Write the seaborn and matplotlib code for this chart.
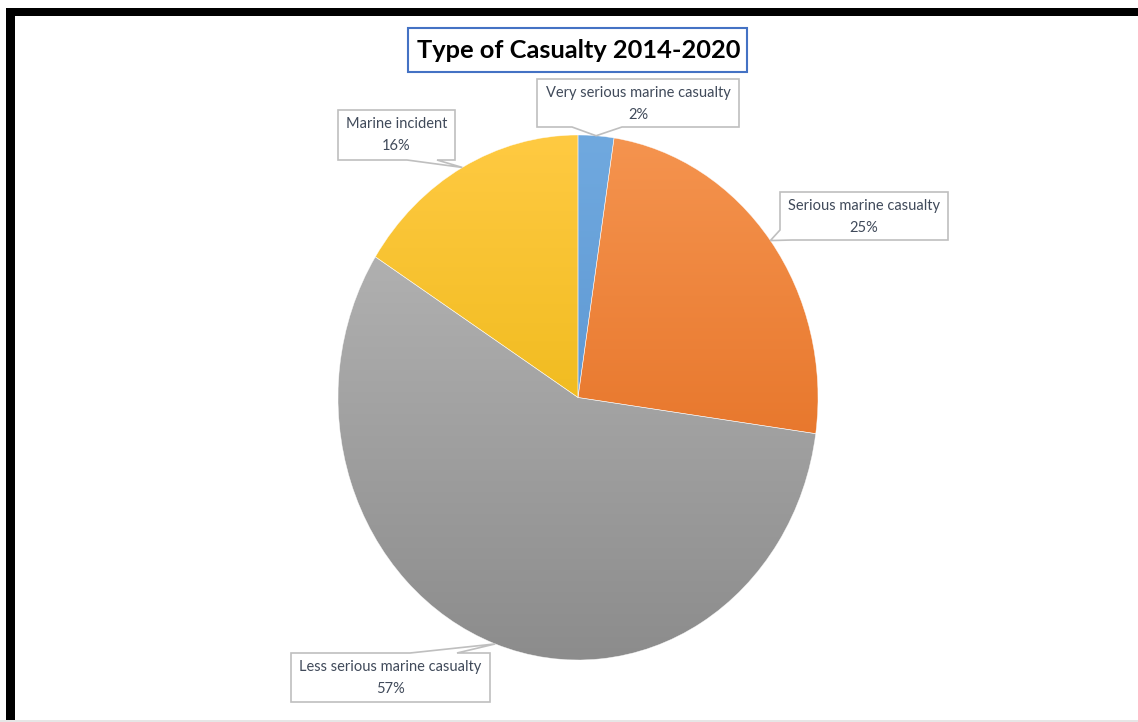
import numpy as np
import matplotlib
matplotlib.use("Agg")
import matplotlib.pyplot as plt
import seaborn as sns
from matplotlib.patches import Rectangle, Polygon
from matplotlib.colors import LinearSegmentedColormap

# ---- data ----
categories = ["Very serious marine casualty", "Serious marine casualty",
              "Less serious marine casualty", "Marine incident"]
shares = [2.4, 24.8, 56.8, 16.0]
pct_labels = ["2%", "25%", "57%", "16%"]
title = "Type of Casualty 2014-2020"

top_colors = ["#70A9DF", "#F5944F", "#BBBBBB", "#FFCA42"]
bottom_colors = ["#4F8AC9", "#DE6314", "#8C8C8C", "#E3AE00"]

sns.set_theme(style="white")
plt.rcParams['font.family'] = ['Lato', 'DejaVu Sans']

W, H = 1138, 722
fig = plt.figure(figsize=(W / 100, H / 100), dpi=100)
fig.patch.set_facecolor('white')

# ---- pie (elliptical, like the reference) ----
pl, pt, pr, pb = 338, 135, 818, 660
ax = fig.add_axes([pl / W, 1 - pb / H, (pr - pl) / W, (pb - pt) / H])
wedges, _ = ax.pie(shares, startangle=90, counterclock=False, radius=1,
                   colors=bottom_colors)
grad = np.linspace(0, 1, 256).reshape(-1, 1)
for w, c0, c1 in zip(wedges, top_colors, bottom_colors):
    cmap = LinearSegmentedColormap.from_list('g', [c0, c1])
    im = ax.imshow(grad, cmap=cmap, extent=(-1, 1, -1, 1), origin='upper',
                   aspect='auto', zorder=2, interpolation='bilinear')
    im.set_clip_path(w)
    w.set_facecolor('none')
    w.set_edgecolor('white')
    w.set_linewidth(0.4)
    w.set_alpha(0.7)
    w.set_zorder(3)
ax.set_aspect('auto')
ax.set_xlim(-1, 1)
ax.set_ylim(-1, 1)
ax.axis('off')

# ---- overlay in pixel coordinates ----
ov = fig.add_axes([0, 0, 1, 1], zorder=5)
ov.set_xlim(0, W)
ov.set_ylim(H, 0)
ov.axis('off')
ov.patch.set_alpha(0)

def tip_of(w):
    th = np.deg2rad((w.theta1 + w.theta2) / 2)
    disp = ax.transData.transform((np.cos(th), np.sin(th)))
    return tuple(ov.transData.inverted().transform(disp))

text_color = "#404A5A"
box_edge = "#BFBFBF"

# box layout: (left, top, right, bottom), notch side, notch params
layout = {
    0: ((537, 79, 739, 127), 'bottom', (572, 622)),
    1: ((780, 192, 948, 240), 'leftbottom', (230, 792)),
    2: ((291, 653, 490, 702), 'top', (410, 457)),
    3: ((338, 110, 455, 160), 'bottom', (407, 437)),
}

for i, w in enumerate(wedges):
    (l, t, r, b), side, (n1, n2) = layout[i]
    tip = tip_of(w)
    if side == 'bottom':
        verts = [(l, t), (r, t), (r, b), (n2, b), tip, (n1, b), (l, b)]
    elif side == 'top':
        verts = [(l, t), (n1, t), tip, (n2, t), (r, t), (r, b), (l, b)]
    else:
        verts = [(l, t), (r, t), (r, b), (n2, b), tip, (l, n1)]
    ov.add_patch(Polygon(verts, closed=True, facecolor='white',
                         edgecolor=box_edge, linewidth=1.2, zorder=6))
    cx = (l + r) / 2
    ov.text(cx, t + 14, categories[i], ha='center', va='center',
            fontsize=10.5, color=text_color, zorder=7)
    ov.text(cx, t + 36, pct_labels[i], ha='center', va='center',
            fontsize=10.5, color=text_color, zorder=7)

# ---- title ----
ov.add_patch(Rectangle((408, 28), 339, 44, facecolor='white',
                       edgecolor='#4472C4', linewidth=1.5, zorder=6))
ov.text(578.5, 51, title, ha='center', va='center', fontsize=18.3,
        fontweight='bold', color='black', zorder=7)

# ---- frame ----
ov.add_patch(Rectangle((6, 8), W - 6, 8, facecolor='black', edgecolor='none', zorder=8))
ov.add_patch(Rectangle((6, 8), 9, H - 8, facecolor='black', edgecolor='none', zorder=8))
ov.add_patch(Rectangle((0, 719.5), W, 2, facecolor='#E6E6E6', edgecolor='none', zorder=8))

fig.savefig("out.png", dpi=100)
